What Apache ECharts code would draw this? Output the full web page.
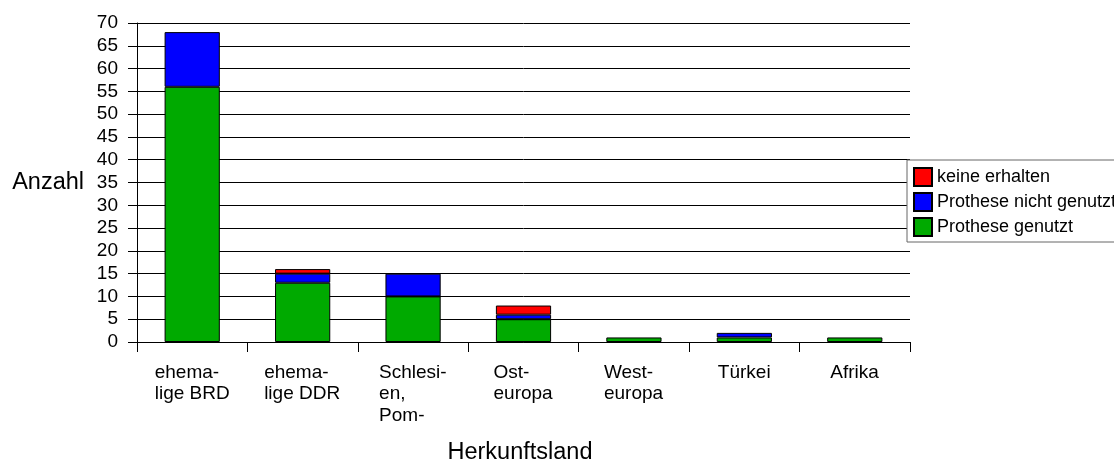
<!DOCTYPE html>
<html>
<head>
<meta charset="utf-8">
<script src="https://cdn.jsdelivr.net/npm/echarts@6/dist/echarts.min.js"></script>
<style>
  html, body { margin: 0; padding: 0; background: #fff; }
  #chart { width: 1114px; height: 461px; }
</style>
</head>
<body>
<div id="chart"></div>
<script>
// ---- data ----
const categories = ['ehema-\nlige BRD', 'ehema-\nlige DDR', 'Schlesi-\nen,\nPom-', 'Ost-\neuropa', 'West-\neuropa', 'Türkei', 'Afrika'];
const protheseGenutzt = [56, 13, 10, 5, 1, 1, 1];
const protheseNichtGenutzt = [12, 2, 5, 1, 0, 1, 0];
const keineErhalten = [0, 1, 0, 2, 0, 0, 0];
const seriesNames = ['keine erhalten', 'Prothese nicht genutzt', 'Prothese genutzt'];
const yTicks = { min: 0, max: 70, interval: 5 };

const FONT = '"Liberation Sans", Arial, sans-serif';
const tickFont = 19;

// zero-height segments are not drawn (avoids stray border lines)
const nz = (arr) => arr.map(v => (v === 0 ? null : v));

// measure label block widths so lines are left-aligned in a centered block
const ctx = document.createElement('canvas').getContext('2d');
ctx.font = tickFont + 'px "Liberation Sans"';
const rich = {};
categories.forEach((c, i) => {
  const w = Math.max(...c.split('\n').map(l => ctx.measureText(l).width));
  rich['c' + i] = { width: Math.ceil(w), align: 'left', fontSize: tickFont, lineHeight: 21.5, fontFamily: FONT, color: '#000' };
});

const chart = echarts.init(document.getElementById('chart'), null, { renderer: 'canvas' });
const barStyle = (color) => ({ color: color, borderColor: '#000', borderWidth: 1 });

chart.setOption({
  backgroundColor: '#fff',
  animation: false,
  textStyle: { fontFamily: FONT, color: '#000' },
  grid: { left: 137, right: 204, top: 23, bottom: 119, containLabel: false, outerBoundsMode: 'none' },
  legend: {
    orient: 'vertical',
    left: 907, top: 160,
    data: seriesNames,
    itemWidth: 18, itemHeight: 18, itemGap: 5,
    padding: [7, 8, 5, 6],
    borderColor: '#666', borderWidth: 1,
    backgroundColor: '#fff',
    textStyle: { fontSize: 18, lineHeight: 18, color: '#000', fontFamily: FONT },
    icon: 'rect'
  },
  xAxis: {
    type: 'category',
    data: categories,
    boundaryGap: true,
    name: 'Herkunftsland',
    nameLocation: 'middle',
    nameGap: 99,
    nameTextStyle: { fontSize: 23.5, color: '#000', fontFamily: FONT, padding: [0, 7, 0, 0] },
    axisLine: { lineStyle: { color: '#000', width: 1 } },
    axisTick: { show: true, length: 10, alignWithLabel: false, lineStyle: { color: '#000' } },
    axisLabel: {
      interval: 0, margin: 20, color: '#000', fontSize: tickFont, fontFamily: FONT,
      align: 'center', verticalAlign: 'top',
      formatter: (v, i) => v.split('\n').map(l => '{c' + i + '|' + l + '}').join('\n'),
      rich: rich
    },
    splitLine: { show: false }
  },
  yAxis: {
    type: 'value',
    min: yTicks.min, max: yTicks.max, interval: yTicks.interval,
    name: 'Anzahl',
    nameLocation: 'middle',
    nameRotate: 0,
    nameGap: 53,
    nameTextStyle: { fontSize: 23.5, color: '#000', fontFamily: FONT },
    axisLine: { show: true, lineStyle: { color: '#000', width: 1 } },
    axisTick: { show: true, length: 9, inside: false, lineStyle: { color: '#000' } },
    axisLabel: { margin: 19, color: '#000', fontSize: tickFont, fontFamily: FONT },
    splitLine: { show: true, lineStyle: { color: '#000', width: 1 } }
  },
  series: [
    { name: 'Prothese genutzt', type: 'bar', stack: 'a', data: nz(protheseGenutzt), barWidth: '50%', itemStyle: barStyle('#00aa00') },
    { name: 'Prothese nicht genutzt', type: 'bar', stack: 'a', data: nz(protheseNichtGenutzt), barWidth: '50%', itemStyle: barStyle('#0000ff') },
    { name: 'keine erhalten', type: 'bar', stack: 'a', data: nz(keineErhalten), barWidth: '50%', itemStyle: barStyle('#ff0000') }
  ]
});
</script>
</body>
</html>
